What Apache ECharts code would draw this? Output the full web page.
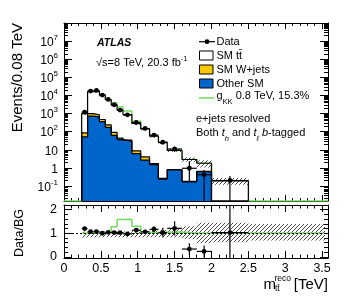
<!DOCTYPE html>
<html>
<head>
<meta charset="utf-8">
<script src="https://cdn.jsdelivr.net/npm/echarts@6.0.0/dist/echarts.min.js"></script>
<style>
html,body{margin:0;padding:0;background:#fff;}
#chart{width:357px;height:302px;}
</style>
</head>
<body>
<div id="chart"></div>
<script>
// ---------------- values ----------------
const binEdges = [0.24,0.32,0.40,0.48,0.56,0.64,0.72,0.80,0.92,1.04,1.16,1.28,1.40,1.60,1.80,2.00,2.50,3.54];
// stacked backgrounds (bins 0.24 - 2.5)
const otherSM  = [52,720,660,355,174,63,36,30,6.1,2.7,1.5,0.24,0.76,0.17,0.62,0];
const wJets    = [33,260,200,115,61,28,8,4,2.6,1.3,0.2,0.02,0.05,0.01,0.03,0];
const ttbarSM  = [915,15320,16640,10030,5565,2860,1456,841,274,137,54.3,24.7,8.3,2.72,1.15,0.19];
// data
const dataCounts  = [1200,17400,18800,10500,6000,3050,1550,850,320,150,65,26,11,0.95,0.42,0.2];
const dataErrUp   = [35,132,137,102,77,55,39,29,18,12,8,5.1,3.3,1.35,0.34,0.16];
const dataErrDown = [35,132,137,102,77,55,39,29,18,12,8,5.1,3.3,0.77,0.42,0.2];
// ratio panel
const ratioValues  = [1.20,1.07,1.07,1.00,1.04,1.03,1.03,0.97,1.13,1.06,1.17,1.03,1.21,0.33,0.23,1.03];
const ratioErrUp   = [0.03,0.01,0.01,0.01,0.02,0.02,0.03,0.04,0.06,0.09,0.13,0.2,0.3,0.25,0.25,1.5];
const ratioErrDown = [0.03,0.01,0.01,0.01,0.02,0.02,0.03,0.04,0.06,0.09,0.13,0.2,0.3,0.25,0.25,1.1];
// background uncertainty (relative), bins 0.24 - 3.54
const bandLow  = [0.82,0.83,0.83,0.83,0.83,0.83,0.83,0.83,0.83,0.83,0.83,0.83,0.83,0.75,0.58,0.62,0.69];
const bandHigh = [1.08,1.08,1.08,1.08,1.08,1.08,1.08,1.08,1.09,1.10,1.12,1.14,1.18,1.30,1.45,1.45,1.39];
// g_KK signal + background
const gkkUpper = [1000,16300,17500,10500,5800,3780,2350,1380,370,145,58,26,9.6,2.9,1.8,0.19,0];
const gkkRatio = [1,1,1,1,1,1.28,1.58,1.60,1.30,1.03,1.03,1.04,1.05,1,1,1,1];
// tick labels
const xTickLabels = [0,0.5,1,1.5,2,2.5,3,3.5];
const yDecades = [-1,0,1,2,3,4,5,6,7];
const ratioTickLabels = [0,1,2];

// ---------------- axis ranges ----------------
const X_MAX = 3.58;
const LOG_MIN = -1.83, LOG_MAX = 8;
const R_MIN = -0.05, R_MAX = 2.2;
const FONT = '"Liberation Sans", Arial, Helvetica, sans-serif';
const BLUE = '#0066cc', YELLOW = '#f8c800', GREEN = '#72dc5c';

const lg = v => (v > 0 ? Math.min(Math.max(Math.log10(v), LOG_MIN), LOG_MAX) : LOG_MIN);
const clampR = v => Math.min(Math.max(v, R_MIN), R_MAX);

const xMinor = []; for (let k = 1; k < 36; k++) if (k % 5) xMinor.push(k / 10);
const yMinor = [];
for (let d = -2; d < 8; d++) for (let k = 2; k < 10; k++) {
  const v = d + Math.log10(k); if (v > LOG_MIN && v < LOG_MAX) yMinor.push(v);
}
const rMinor = []; for (let k = 1; k < 11; k++) if (k % 5) rMinor.push(+(k * 0.2).toFixed(2));

const nStack = otherSM.length;
const stackEdges = binEdges.slice(0, nStack + 1);
const cumW = otherSM.map((v, i) => v + wJets[i]);
const total = cumW.map((v, i) => v + ttbarSM[i]);

function stackPts(vals) {
  const pts = [[stackEdges[0], LOG_MIN]];
  for (let i = 0; i < vals.length; i++) pts.push([stackEdges[i + 1], lg(vals[i])]);
  pts.push([stackEdges[vals.length], LOG_MIN]);
  return pts;
}

// hatch pattern
const hatch = document.createElement('canvas');
hatch.width = 4; hatch.height = 4;
const hc = hatch.getContext('2d');
hc.strokeStyle = '#000'; hc.lineWidth = 0.7;
hc.beginPath();
hc.moveTo(0, 4); hc.lineTo(4, 0);
hc.moveTo(-1, 1); hc.lineTo(1, -1);
hc.moveTo(3, 5); hc.lineTo(5, 3);
hc.stroke();
const hatchFill = { image: hatch, repeat: 'repeat' };

// data items
const upperBand = [], lowerBand = [], upperPts = [], lowerPts = [];
for (let i = 0; i < nStack; i++) {
  upperBand.push([binEdges[i], binEdges[i + 1], lg(total[i] * bandLow[i]), lg(total[i] * bandHigh[i])]);
}
for (let i = 0; i < bandLow.length; i++) {
  lowerBand.push([binEdges[i], binEdges[i + 1], clampR(bandLow[i]), clampR(bandHigh[i])]);
}
for (let i = 0; i < dataCounts.length; i++) {
  const c = (binEdges[i] + binEdges[i + 1]) / 2;
  upperPts.push([c, lg(dataCounts[i]), lg(dataCounts[i] - dataErrDown[i]), lg(dataCounts[i] + dataErrUp[i]), binEdges[i], binEdges[i + 1]]);
  lowerPts.push([c, ratioValues[i], clampR(ratioValues[i] - ratioErrDown[i]), clampR(ratioValues[i] + ratioErrUp[i]), binEdges[i], binEdges[i + 1]]);
}

const greenUpper = [[0, LOG_MIN], [binEdges[0], LOG_MIN]];
for (let i = 0; i < gkkUpper.length; i++) greenUpper.push([binEdges[i + 1], lg(gkkUpper[i])]);
greenUpper.push([X_MAX, LOG_MIN]);
const greenRatio = [[binEdges[0], gkkRatio[0]]];
for (let i = 0; i < gkkRatio.length; i++) greenRatio.push([binEdges[i + 1], gkkRatio[i]]);

function bandRender(params, api) {
  const p0 = api.coord([api.value(0), api.value(3)]);
  const p1 = api.coord([api.value(1), api.value(2)]);
  return { type: 'rect', shape: { x: p0[0], y: p0[1], width: p1[0] - p0[0], height: p1[1] - p0[1] },
           style: { fill: hatchFill, stroke: null } };
}
function pointRender(params, api) {
  const x = api.value(0), y = api.value(1);
  const c = api.coord([x, y]);
  const a = api.coord([x, api.value(2)]), b = api.coord([x, api.value(3)]);
  const l = api.coord([api.value(4), y]), r = api.coord([api.value(5), y]);
  return { type: 'group', children: [
    { type: 'line', shape: { x1: a[0], y1: a[1], x2: b[0], y2: b[1] }, style: { stroke: '#000', lineWidth: 1.2 } },
    { type: 'line', shape: { x1: l[0], y1: l[1], x2: r[0], y2: r[1] }, style: { stroke: '#000', lineWidth: 1.2 } },
    { type: 'circle', shape: { cx: c[0], cy: c[1], r: 2.4 }, style: { fill: '#000' } }
  ] };
}

function axis(gridIndex, position, min, max, ticks, len, showLine, label) {
  return {
    type: 'value', gridIndex, position, min, max,
    axisLine: { show: showLine, onZero: false, lineStyle: { color: '#000', width: 1 } },
    axisTick: { show: true, inside: true, length: len, customValues: ticks, lineStyle: { color: '#000', width: 1 } },
    axisLabel: label || { show: false },
    splitLine: { show: false }, minorTick: { show: false }, minorSplitLine: { show: false },
    axisPointer: { show: false }, silent: true
  };
}
const supRich = {
  b: { fontFamily: FONT, fontSize: 12, color: '#000', lineHeight: 15, verticalAlign: 'bottom' },
  s: { fontFamily: FONT, fontSize: 8, color: '#000', lineHeight: 8, verticalAlign: 'top' }
};

const option = {
  animation: false,
  backgroundColor: '#fff',
  grid: [
    { left: 64, top: 23, width: 264, height: 178 },
    { left: 64, top: 205, width: 264, height: 53 }
  ],
  xAxis: [
    axis(0, 'bottom', 0, X_MAX, xTickLabels, 6, true),
    axis(0, 'top', 0, X_MAX, xTickLabels, 6, true),
    axis(0, 'bottom', 0, X_MAX, xMinor, 3, false),
    axis(0, 'top', 0, X_MAX, xMinor, 3, false),
    axis(1, 'bottom', 0, X_MAX, xTickLabels, 7, true,
      { show: true, customValues: xTickLabels, margin: 4, fontFamily: FONT, fontSize: 12.5, color: '#000',
        formatter: v => String(v) }),
    axis(1, 'top', 0, X_MAX, xTickLabels, 7, true),
    axis(1, 'bottom', 0, X_MAX, xMinor, 3.5, false),
    axis(1, 'top', 0, X_MAX, xMinor, 3.5, false)
  ],
  yAxis: [
    axis(0, 'left', LOG_MIN, LOG_MAX, yDecades, 8, true,
      { show: true, customValues: yDecades, margin: 6, rich: supRich,
        formatter: v => { const n = Math.round(v); return n === 0 ? '{b|1}' : n === 1 ? '{b|10}' : '{b|10}{s|' + n + '}'; } }),
    axis(0, 'right', LOG_MIN, LOG_MAX, yDecades, 8, true),
    axis(0, 'left', LOG_MIN, LOG_MAX, yMinor, 4, false),
    axis(0, 'right', LOG_MIN, LOG_MAX, yMinor, 4, false),
    axis(1, 'left', R_MIN, R_MAX, ratioTickLabels, 8, true,
      { show: true, customValues: ratioTickLabels, margin: 7, fontFamily: FONT, fontSize: 12.5, color: '#000',
        formatter: v => String(Math.round(v)) }),
    axis(1, 'right', R_MIN, R_MAX, ratioTickLabels, 8, true),
    axis(1, 'left', R_MIN, R_MAX, rMinor, 4, false),
    axis(1, 'right', R_MIN, R_MAX, rMinor, 4, false)
  ],
  series: [
    { name: 'gKK', type: 'line', step: 'start', xAxisIndex: 0, yAxisIndex: 0, data: greenUpper, symbol: 'none',
      lineStyle: { color: GREEN, width: 1.5 }, z: 1, silent: true },
    { name: 'SM ttbar', type: 'line', step: 'start', xAxisIndex: 0, yAxisIndex: 0, data: stackPts(total), symbol: 'none',
      lineStyle: { color: '#000', width: 1.2 }, areaStyle: { color: '#fff', opacity: 1, origin: 'start' }, z: 2, silent: true },
    { name: 'SM W+jets', type: 'line', step: 'start', xAxisIndex: 0, yAxisIndex: 0, data: stackPts(cumW), symbol: 'none',
      lineStyle: { color: '#000', width: 1.2 }, areaStyle: { color: YELLOW, opacity: 1, origin: 'start' }, z: 2, silent: true },
    { name: 'Other SM', type: 'line', step: 'start', xAxisIndex: 0, yAxisIndex: 0, data: stackPts(otherSM), symbol: 'none',
      lineStyle: { color: '#000', width: 1.2 }, areaStyle: { color: BLUE, opacity: 1, origin: 'start' }, z: 2, silent: true },
    { name: 'unc', type: 'custom', xAxisIndex: 0, yAxisIndex: 0, data: upperBand, renderItem: bandRender,
      encode: { x: [0, 1], y: [2, 3] }, z: 3, silent: true },
    { name: 'Data', type: 'custom', xAxisIndex: 0, yAxisIndex: 0, data: upperPts, renderItem: pointRender,
      encode: { x: [0, 4, 5], y: [1, 2, 3] }, z: 4, silent: true },
    // ratio panel
    { name: 'unc ratio', type: 'custom', xAxisIndex: 4, yAxisIndex: 4, data: lowerBand, renderItem: bandRender,
      encode: { x: [0, 1], y: [2, 3] }, z: 2, silent: true },
    { name: 'unity', type: 'line', xAxisIndex: 4, yAxisIndex: 4, data: [], z: 2, silent: true,
      markLine: { silent: true, symbol: ['none', 'none'], label: { show: false },
        lineStyle: { color: '#000', width: 1, type: [2, 2] }, data: [{ yAxis: 1 }] } },
    { name: 'gKK ratio', type: 'line', step: 'start', xAxisIndex: 4, yAxisIndex: 4, data: greenRatio, symbol: 'none',
      lineStyle: { color: GREEN, width: 1.5 }, z: 3, silent: true },
    { name: 'Data ratio', type: 'custom', xAxisIndex: 4, yAxisIndex: 4, data: lowerPts, renderItem: pointRender,
      encode: { x: [0, 4, 5], y: [1, 2, 3] }, z: 4, silent: true }
  ],
  graphic: [
    // axis titles
    { type: 'text', x: 18, y: 23, rotation: Math.PI / 2,
      style: { text: 'Events/0.08 TeV', font: '15px ' + FONT, fill: '#000', align: 'right', verticalAlign: 'middle' } },
    { type: 'text', x: 20, y: 209, rotation: Math.PI / 2,
      style: { text: 'Data/BG', font: '12.5px ' + FONT, fill: '#000', align: 'right', verticalAlign: 'middle' } },
    { type: 'text', x: 263.5, y: 285, style: { text: 'm', font: '15px ' + FONT, fill: '#000', align: 'left', verticalAlign: 'middle' } },
    { type: 'text', x: 274.5, y: 278.5, style: { text: 'reco', font: '8.5px ' + FONT, fill: '#000', align: 'left', verticalAlign: 'middle' } },
    { type: 'text', x: 275, y: 289, style: { text: 'tt\u0304', font: '8.5px ' + FONT, fill: '#000', align: 'left', verticalAlign: 'middle' } },
    { type: 'text', x: 328, y: 285, style: { text: '[TeV]', font: '15px ' + FONT, fill: '#000', align: 'right', verticalAlign: 'middle' } },
    // ATLAS label
    { type: 'text', x: 97, y: 42.7, style: { text: 'ATLAS', font: 'italic bold 10.5px ' + FONT, fill: '#000', verticalAlign: 'middle' } },
    { type: 'text', x: 96, y: 61.7, style: { text: '{n|\u221As=8 TeV, 20.3 fb}{s|-1}', verticalAlign: 'middle',
        rich: { n: { fontFamily: FONT, fontSize: 11, lineHeight: 14, verticalAlign: 'bottom', color: '#000' },
                s: { fontFamily: FONT, fontSize: 7.5, lineHeight: 8, verticalAlign: 'top', color: '#000' } } } },
    // legend
    { type: 'line', shape: { x1: 199, y1: 41.7, x2: 215, y2: 41.7 }, style: { stroke: '#000', lineWidth: 1.2 } },
    { type: 'circle', shape: { cx: 207, cy: 41.7, r: 2.4 }, style: { fill: '#000' } },
    { type: 'text', x: 216.5, y: 41.7, style: { text: 'Data', font: '11px ' + FONT, fill: '#000', verticalAlign: 'middle' } },
    { type: 'rect', shape: { x: 199.5, y: 51, width: 13.5, height: 9 }, style: { fill: '#fff', stroke: '#000', lineWidth: 1 } },
    { type: 'text', x: 216.5, y: 55.5, style: { text: 'SM tt\u0304', font: '11px ' + FONT, fill: '#000', verticalAlign: 'middle' } },
    { type: 'rect', shape: { x: 199.5, y: 65, width: 13.5, height: 9 }, style: { fill: YELLOW, stroke: '#000', lineWidth: 1 } },
    { type: 'text', x: 216.5, y: 69.6, style: { text: 'SM W+jets', font: '11px ' + FONT, fill: '#000', verticalAlign: 'middle' } },
    { type: 'rect', shape: { x: 199.5, y: 79, width: 13.5, height: 9 }, style: { fill: BLUE, stroke: '#000', lineWidth: 1 } },
    { type: 'text', x: 216.5, y: 83.6, style: { text: 'Other SM', font: '11px ' + FONT, fill: '#000', verticalAlign: 'middle' } },
    { type: 'line', shape: { x1: 199, y1: 98, x2: 214, y2: 98 }, style: { stroke: GREEN, lineWidth: 1.5 } },
    { type: 'text', x: 216.5, y: 98, style: { text: '{n|g}{u|KK}{n| 0.8 TeV, 15.3%}', verticalAlign: 'middle',
        rich: { n: { fontFamily: FONT, fontSize: 11, lineHeight: 15, verticalAlign: 'top', color: '#000' },
                u: { fontFamily: FONT, fontSize: 7.5, lineHeight: 8, verticalAlign: 'bottom', color: '#000' } } } },
    { type: 'text', x: 196, y: 119.3, style: { text: 'e+jets resolved', font: '11px ' + FONT, fill: '#000', verticalAlign: 'middle' } },
    { type: 'text', x: 196, y: 135, style: { text: '{n|Both }{i|t}{u|h}{n| and }{i|t}{u|\u2113}{n| }{i|b}{n|-tagged}', verticalAlign: 'middle',
        rich: { n: { fontFamily: FONT, fontSize: 11, lineHeight: 15, verticalAlign: 'top', color: '#000' },
                i: { fontFamily: FONT, fontSize: 11, fontStyle: 'italic', lineHeight: 15, verticalAlign: 'top', color: '#000' },
                u: { fontFamily: FONT, fontSize: 7.5, fontStyle: 'italic', lineHeight: 8, verticalAlign: 'bottom', color: '#000' } } } }
  ]
};

const chart = echarts.init(document.getElementById('chart'), null, { renderer: 'canvas' });
chart.setOption(option);
</script>
</body>
</html>
